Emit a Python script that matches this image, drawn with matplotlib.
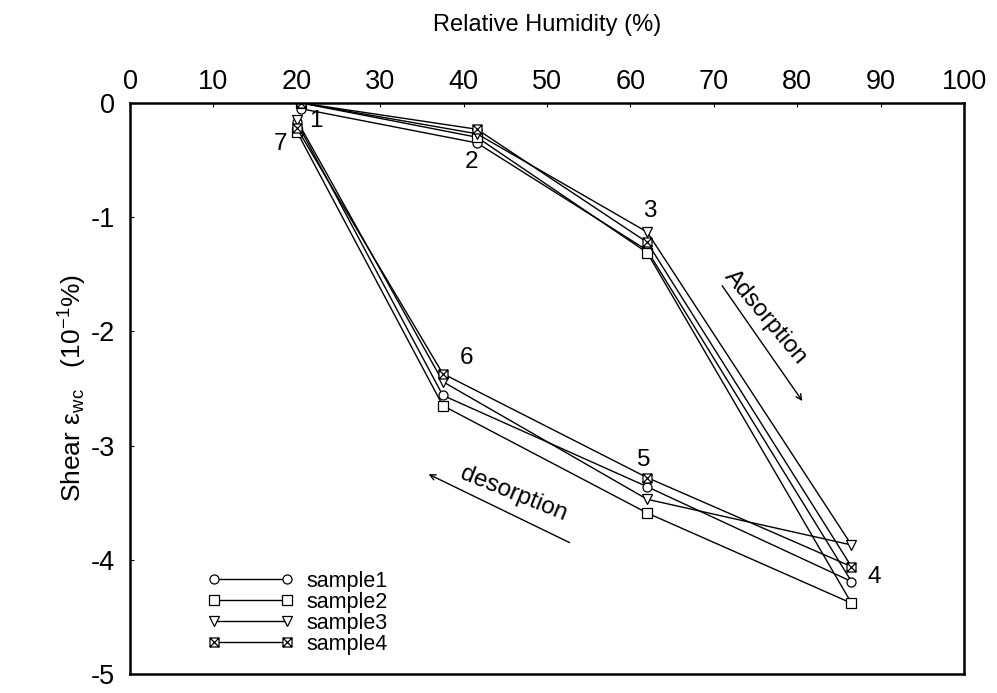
import numpy as np
import matplotlib.pyplot as plt
from matplotlib.path import Path

plt.rcParams['font.family'] = ['Liberation Sans', 'DejaVu Sans']
plt.rcParams['mathtext.fontset'] = 'custom'
plt.rcParams['mathtext.rm'] = 'Liberation Sans'
plt.rcParams['mathtext.it'] = 'Liberation Sans'

# humidity steps 1..7 (adsorption 1-4, desorption 4-7)
rh = [20.5, 41.6, 62.0, 86.5, 62.0, 37.5, 20.0]
sample1 = [-0.05, -0.35, -1.29, -4.19, -3.36, -2.56, -0.17]
sample2 = [-0.0, -0.30, -1.31, -4.38, -3.59, -2.65, -0.25]
sample3 = [-0.0, -0.27, -1.13, -3.87, -3.47, -2.44, -0.15]
sample4 = [-0.0, -0.23, -1.22, -4.06, -3.28, -2.37, -0.22]
step_labels = ['1', '2', '3', '4', '5', '6', '7']
label_pos = [(22.3, -0.16), (41.0, -0.52), (62.3, -0.95), (89.2, -4.15),
             (61.6, -3.13), (40.3, -2.23), (18.0, -0.36)]

# square with both diagonals
box_x = Path([(-1, -1), (1, -1), (1, 1), (-1, 1), (-1, -1), (-1, -1), (1, 1), (-1, 1), (1, -1)],
             [Path.MOVETO, Path.LINETO, Path.LINETO, Path.LINETO, Path.CLOSEPOLY,
              Path.MOVETO, Path.LINETO, Path.MOVETO, Path.LINETO])

fig = plt.figure(figsize=(9.97, 6.93), dpi=100)
ax = fig.add_axes([0.1304, 0.0274, 0.8366, 0.824])

styles = [('sample1', sample1, 'o', 6.5),
          ('sample2', sample2, 's', 7),
          ('sample3', sample3, 'v', 7),
          ('sample4', sample4, box_x, 6.5)]
for name, vals, mk, ms in styles:
    ax.plot(rh, vals, color='black', lw=1.0, marker=mk, ms=ms,
            mfc='white', mec='black', mew=0.9, label=name)

for t, (x, y) in zip(step_labels, label_pos):
    ax.text(x, y, t, fontsize=17.5, ha='center', va='center')

ax.set_xlim(0, 100)
ax.set_ylim(-5, 0)
ax.set_xticks(np.arange(0, 101, 10))
ax.set_yticks([0, -1, -2, -3, -4, -5])
ax.set_yticklabels(['0', '-1', '-2', '-3', '-4', '-5'])
ax.xaxis.tick_top()
ax.xaxis.set_label_position('top')
ax.tick_params(axis='x', direction='in', length=3, pad=6, labelsize=19.5)
ax.tick_params(axis='y', direction='in', length=3, pad=11, labelsize=19.5)
for s in ax.spines.values():
    s.set_linewidth(1.8)

ax.set_xlabel('Relative Humidity (%)', fontsize=17, labelpad=27)
ax.set_ylabel(r'Shear $\mathregular{\varepsilon_{wc}}$   (10$\mathregular{^{-1}}$%)',
              fontsize=19, labelpad=1)

# direction arrows
ax.annotate('', xy=(80.8, -2.63), xytext=(70.8, -1.58),
            arrowprops=dict(arrowstyle='->', lw=1.0, color='black'))
ax.text(76.2, -1.88, 'Adsorption', fontsize=17.5, rotation=-50,
        ha='center', va='center', rotation_mode='anchor')
ax.annotate('', xy=(35.5, -3.24), xytext=(53.0, -3.86),
            arrowprops=dict(arrowstyle='->', lw=1.0, color='black'))
ax.text(46.0, -3.42, 'desorption', fontsize=17.5, rotation=-22,
        ha='center', va='center', rotation_mode='anchor')

ax.legend(loc='lower left', bbox_to_anchor=(0.075, 0.007), frameon=False,
          numpoints=2, handlelength=4.0, fontsize=15.5, labelspacing=0.0,
          handletextpad=0.6, borderaxespad=0.3)

fig.savefig('out.png', dpi=100)
